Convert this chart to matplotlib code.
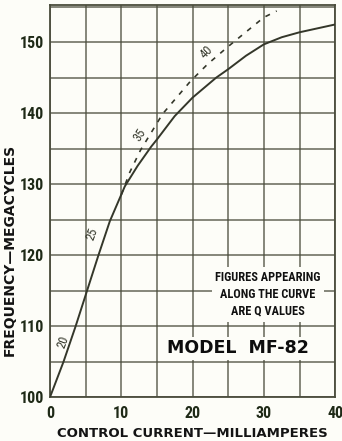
import matplotlib

matplotlib.use("Agg")
import matplotlib.pyplot as plt
from matplotlib.ticker import MultipleLocator

# tuning curve, solid branch (control current mA -> frequency Mc)
current_ma = [0, 1.9, 3.6, 5.2, 6.8, 8.4, 10.5, 12.3, 14.2, 15, 17.5, 20,
              23.3, 25, 27.5, 30, 32.5, 35, 40]
freq_mc = [100, 105, 110, 115, 120, 124.8, 129.7, 132.6, 135.3, 136.3,
           139.6, 142.2, 145, 146.2, 148.1, 149.7, 150.7, 151.4, 152.5]

# dashed branch splitting off above ~10 mA
dash_ma = [10, 11.2, 12.7, 15.8, 19.7, 22.1, 25, 30, 31.8]
dash_mc = [128.5, 131.7, 134.8, 139.9, 144.5, 146.9, 149.4, 153.5, 154.4]

# Q values written beside the curve
q_labels = ["20", "25", "35", "40"]
q_x = [1.9, 6.0, 12.6, 22.0]
q_y = [107.8, 123.0, 137.0, 148.6]
q_rot = [70, 70, 57, 45]

x_ticks = [0, 10, 20, 30, 40]
y_ticks = [100, 110, 120, 130, 140, 150]

INK = "#34372a"
GRID = "#4a4c3c"
LABEL = "#1f2a17"
PAPER = "#fdfdf8"
NARROW = ["Roboto Condensed", "DejaVu Sans"]

fig = plt.figure(figsize=(3.42, 4.41), dpi=100)
fig.patch.set_facecolor(PAPER)
ax = fig.add_axes([0.146, 0.099, 0.834, 0.889])
ax.set_facecolor(PAPER)

ax.set_xlim(0, 40)
ax.set_ylim(100, 155.2)
ax.xaxis.set_minor_locator(MultipleLocator(5))
ax.yaxis.set_minor_locator(MultipleLocator(5))
ax.set_xticks(x_ticks)
ax.set_yticks(y_ticks)
ax.grid(which="both", color=GRID, lw=1.1, alpha=0.85)
ax.set_axisbelow(True)
ax.tick_params(which="both", length=0, labelcolor=LABEL)
ax.tick_params(axis="x", pad=6)
ax.tick_params(axis="y", pad=4)
for lab in ax.get_xticklabels() + ax.get_yticklabels():
    lab.set_family(NARROW)
    lab.set_fontweight("bold")
    lab.set_fontsize(11.5)
for sp in ax.spines.values():
    sp.set_color(GRID)
    sp.set_linewidth(1.3)

ax.plot(current_ma, freq_mc, color=INK, lw=1.4, zorder=3)
ax.plot(dash_ma, dash_mc, color=INK, lw=1.2, ls=(0, (3, 4)), zorder=3)

for t, x, y, r in zip(q_labels, q_x, q_y, q_rot):
    ax.text(x, y, t, rotation=r, ha="center", va="center", fontsize=9,
            color=INK, family=NARROW, zorder=4)

ax.text(30.6, 114.5, "FIGURES APPEARING\nALONG THE CURVE\nARE Q VALUES",
        ha="center", va="center", fontsize=8.8, fontweight="bold",
        linespacing=1.4, color="#111111", family=NARROW,
        bbox=dict(boxstyle="square,pad=0.3", fc=PAPER, ec="none"),
        zorder=4)
ax.text(26.4, 106.9, "MODEL  MF-82", ha="center", va="center", fontsize=12.5,
        fontweight="heavy", color="#0d0d0d",
        bbox=dict(boxstyle="square,pad=0.15", fc=PAPER, ec="none"),
        zorder=4)

ax.set_xlabel("CONTROL CURRENT—MILLIAMPERES", fontsize=9.5, fontweight="bold",
              color="#141414")
ax.xaxis.set_label_coords(0.498, -0.076)
ax.set_ylabel("FREQUENCY—MEGACYCLES", fontsize=10, fontweight="bold",
              color="#141414")
ax.yaxis.set_label_coords(-0.116, 0.377)

fig.savefig("out.png", dpi=100, facecolor=fig.get_facecolor())
